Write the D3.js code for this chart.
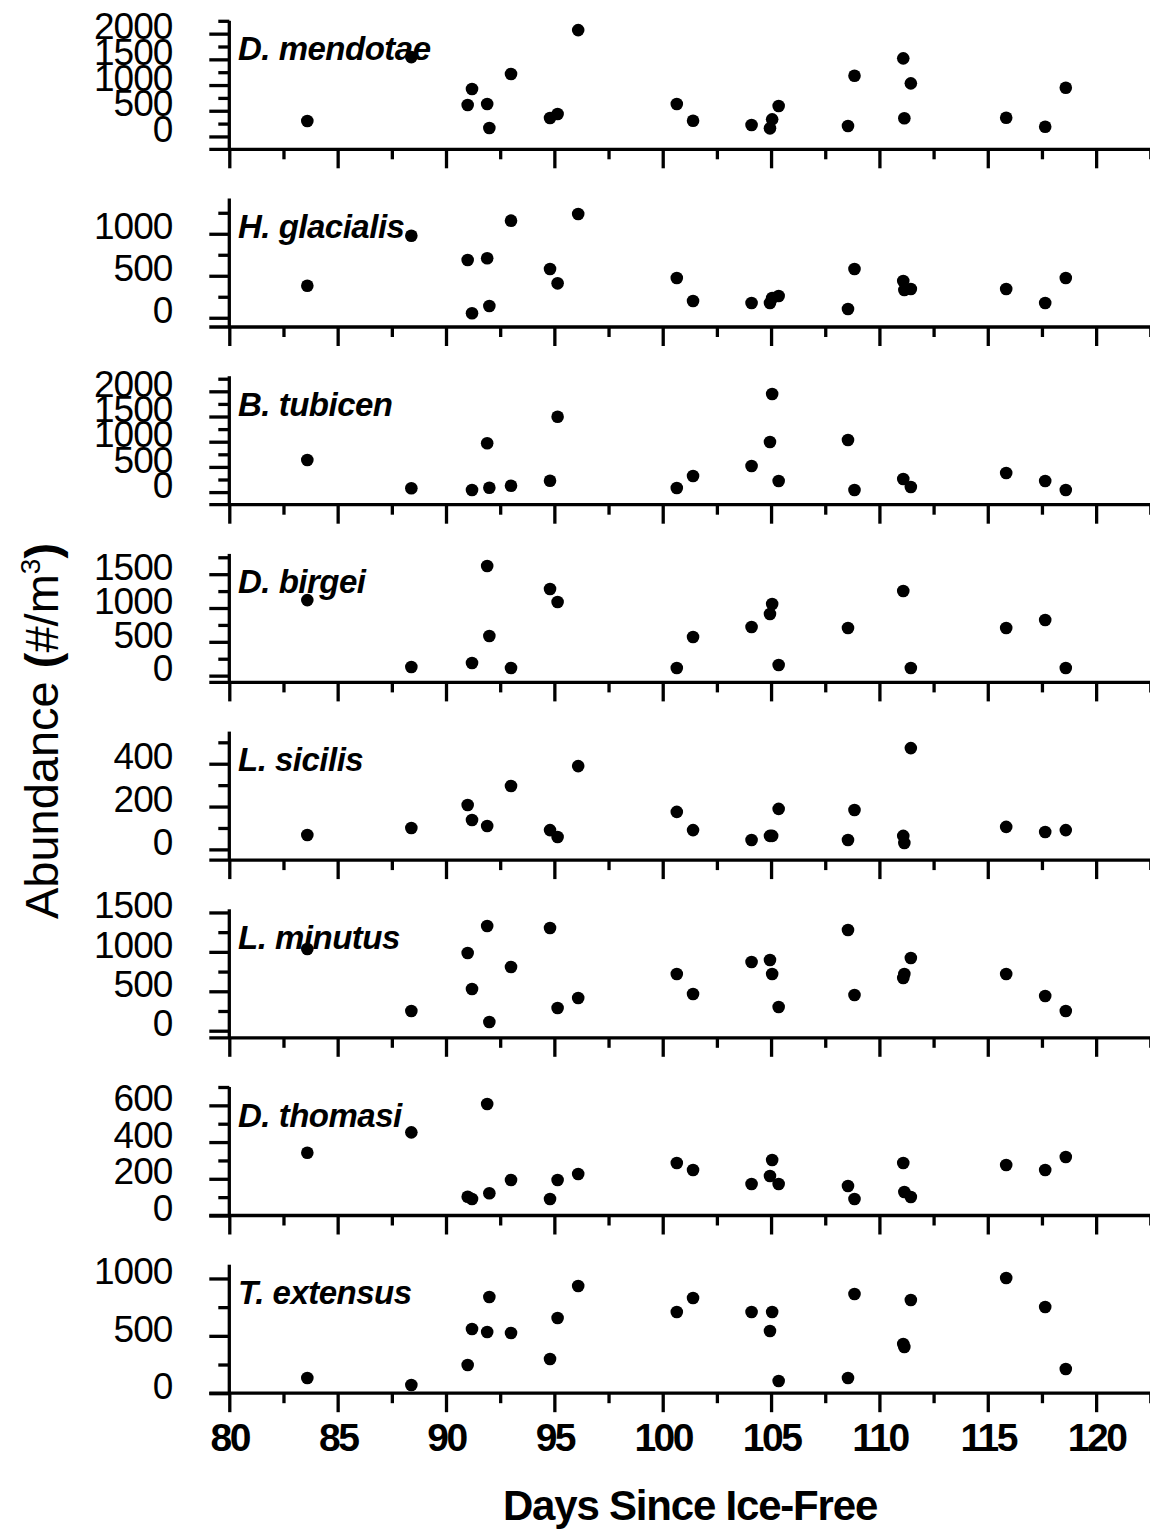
<!DOCTYPE html>
<html>
<head>
<meta charset="utf-8">
<script src="https://cdn.jsdelivr.net/npm/d3@7"></script>
<style>
  body { margin: 0; background: #fff; }
  svg { display: block; }
</style>
</head>
<body>
<script>
// Sampling dates (days since ice-free)
const days = [83.6, 88.4, 91.0, 91.2, 91.9, 92.0, 93.0, 94.8, 95.15, 96.1, 100.65, 101.4,
              104.1, 104.95, 105.05, 105.35, 108.55, 108.85, 111.1, 111.15, 111.45, 115.85, 117.65, 118.6];

const species = ["D. mendotae", "H. glacialis", "B. tubicen", "D. birgei",
                 "L. sicilis", "L. minutus", "D. thomasi", "T. extensus"];

// abundance (#/m3) per date, null = no point
const mendotae  = [300, 1544, 611, 922, 631, 164, 1214, 358, 436, 2069, 631, 306, 222, 158, 333, 592, 203, 1181, 1519, 353, 1033, 364, 189, 948];
const glacialis = [382, 977, 688, 53, 708, 140, 1156, 581, 410, 1235, 473, 200, 176, 176, 235, 259, 104, 581, 438, 330, 342, 342, 176, 473];
const tubicen   = [637, 75, null, 42, 968, 87, 127, 226, 1496, null, 81, 320, 518, 994, 1947, 220, 1034, 42, 260, null, 101, 379, 220, 42];
const birgei    = [1117, 128, null, 187, 1621, 586, 113, 1281, 1089, null, 113, 571, 719, 911, 1059, 157, 704, null, 1251, null, 113, 704, 823, 113];
const sicilis   = [67, 100, 207, 137, 109, null, 296, 90, 58, 389, 175, 90, 44, 63, 63, 189, 44, 184, 63, 30, 473, 105, 81, 90];
const minutus   = [1036, 250, 986, 529, 1328, 110, 808, 1303, 288, 415, 719, 466, 872, 897, 719, 301, 1277, 453, 669, 719, 922, 719, 440, 250];
const thomasi   = [342, 453, 102, 90, 607, 121, 193, 90, 193, 226, 286, 248, 172, 215, 302, 172, 161, 90, 286, 128, 101, 275, 248, 319];
const extensus  = [132, 71, 246, 560, 533, 838, 525, 298, 655, 934, 708, 830, 708, 542, 708, 106, 132, 865, 429, 403, 812, 1004, 751, 211];

const series = [mendotae, glacialis, tubicen, birgei, sicilis, minutus, thomasi, extensus];

// y axis extents and tick steps per panel
const yDomains = [[-250, 2250], [-110, 1420], [-250, 2300], [-100, 1800],
                  [-50, 550], [-90, 1540], [0, 700], [0, 1120]];
const yMajor = [500, 500, 500, 500, 200, 500, 200, 500];

const xTicks = d3.range(80, 121, 5);
const xMinor = d3.range(82.5, 123, 5);

// Layout
const W = 1150, H = 1532;
const AXIS_X = 229.3;
const FIRST_BASE = 149.3, STEP = 177.7, PANEL_H = 128.5;
const LW = 3.3;
const FONT = "'Liberation Sans', Arial, Helvetica, sans-serif";

const svg = d3.select("body").append("svg")
  .attr("width", W)
  .attr("height", H);

svg.append("rect").attr("width", W).attr("height", H).attr("fill", "#fff");

const x = d3.scaleLinear().domain([80, 122.5]).range([AXIS_X, 1150.3]);

species.forEach((name, i) => {
  const base = FIRST_BASE + i * STEP;
  const top = base - PANEL_H;
  const [lo, hi] = yDomains[i];
  const y = d3.scaleLinear().domain([lo, hi]).range([base, top]);
  const major = d3.range(0, hi + 1e-6, yMajor[i]);
  const minor = d3.range(yMajor[i] / 2, hi + 1e-6, yMajor[i]);

  const g = svg.append("g");

  // y axis: minor ticks
  g.append("g")
    .attr("transform", `translate(${AXIS_X},0)`)
    .call(d3.axisLeft(y).tickValues(minor).tickSize(11).tickFormat(""))
    .call(a => a.select(".domain").remove())
    .call(a => a.selectAll("line").attr("stroke", "#000").attr("stroke-width", LW));

  // y axis: major ticks + labels
  g.append("g")
    .attr("transform", `translate(${AXIS_X},0)`)
    .call(d3.axisLeft(y).tickValues(major).tickSize(20).tickPadding(37).tickFormat(d3.format("d")))
    .call(a => a.select(".domain").remove())
    .call(a => a.selectAll("line").attr("stroke", "#000").attr("stroke-width", LW))
    .call(a => a.selectAll("text")
      .attr("dy", "0.14em")
      .attr("font-family", FONT)
      .attr("font-size", "37px")
      .attr("letter-spacing", "-1px")
      .attr("fill", "#000"));

  // y axis line
  g.append("line")
    .attr("x1", AXIS_X).attr("x2", AXIS_X)
    .attr("y1", top).attr("y2", base)
    .attr("stroke", "#000").attr("stroke-width", LW);

  // x axis: minor + major ticks
  g.append("g")
    .attr("transform", `translate(0,${base})`)
    .call(d3.axisBottom(x).tickValues(xMinor).tickSize(10).tickFormat(""))
    .call(a => a.select(".domain").remove())
    .call(a => a.selectAll("line").attr("stroke", "#000").attr("stroke-width", LW));

  const last = i === species.length - 1;
  g.append("g")
    .attr("transform", `translate(0,${base})`)
    .call(d3.axisBottom(x).tickValues(xTicks).tickSize(19).tickPadding(11)
      .tickFormat(last ? d3.format("d") : ""))
    .call(a => a.select(".domain").remove())
    .call(a => a.selectAll("line").attr("stroke", "#000").attr("stroke-width", LW))
    .call(a => a.selectAll("text")
      .attr("font-family", FONT)
      .attr("font-size", "39px")
      .attr("font-weight", "bold")
      .attr("letter-spacing", "-2.5px")
      .attr("fill", "#000"));

  // x axis line
  g.append("line")
    .attr("x1", AXIS_X - 20).attr("x2", 1150)
    .attr("y1", base).attr("y2", base)
    .attr("stroke", "#000").attr("stroke-width", LW);

  // species name
  g.append("text")
    .attr("x", 238)
    .attr("y", top + 39.5)
    .attr("font-family", FONT)
    .attr("font-size", "33px")
    .attr("font-weight", "bold")
    .attr("font-style", "italic")
    .attr("letter-spacing", "-0.5px")
    .attr("fill", "#000")
    .text(name);

  // points
  const pts = days.map((d, k) => ({ d, v: series[i][k] })).filter(p => p.v !== null);
  g.selectAll("circle")
    .data(pts)
    .join("circle")
    .attr("cx", p => x(p.d))
    .attr("cy", p => y(p.v))
    .attr("r", 6.3)
    .attr("fill", "#000");
});

// x title
svg.append("text")
  .attr("x", 690)
  .attr("y", 1520)
  .attr("text-anchor", "middle")
  .attr("font-family", FONT)
  .attr("font-size", "42px")
  .attr("font-weight", "bold")
  .attr("letter-spacing", "-1.2px")
  .attr("fill", "#000")
  .text("Days Since Ice-Free");

// y title
const yt = svg.append("text")
  .attr("transform", "translate(58,731) rotate(-90)")
  .attr("text-anchor", "middle")
  .attr("font-family", FONT)
  .attr("font-size", "47px")
  .attr("fill", "#000");
yt.append("tspan").text("Abundance ");
yt.append("tspan").attr("font-weight", "bold").text("(");
yt.append("tspan").text("#/m");
yt.append("tspan").attr("font-size", "28px").attr("dy", "-18").text("3");
yt.append("tspan").attr("font-weight", "bold").attr("dy", "18").text(")");
</script>
</body>
</html>
